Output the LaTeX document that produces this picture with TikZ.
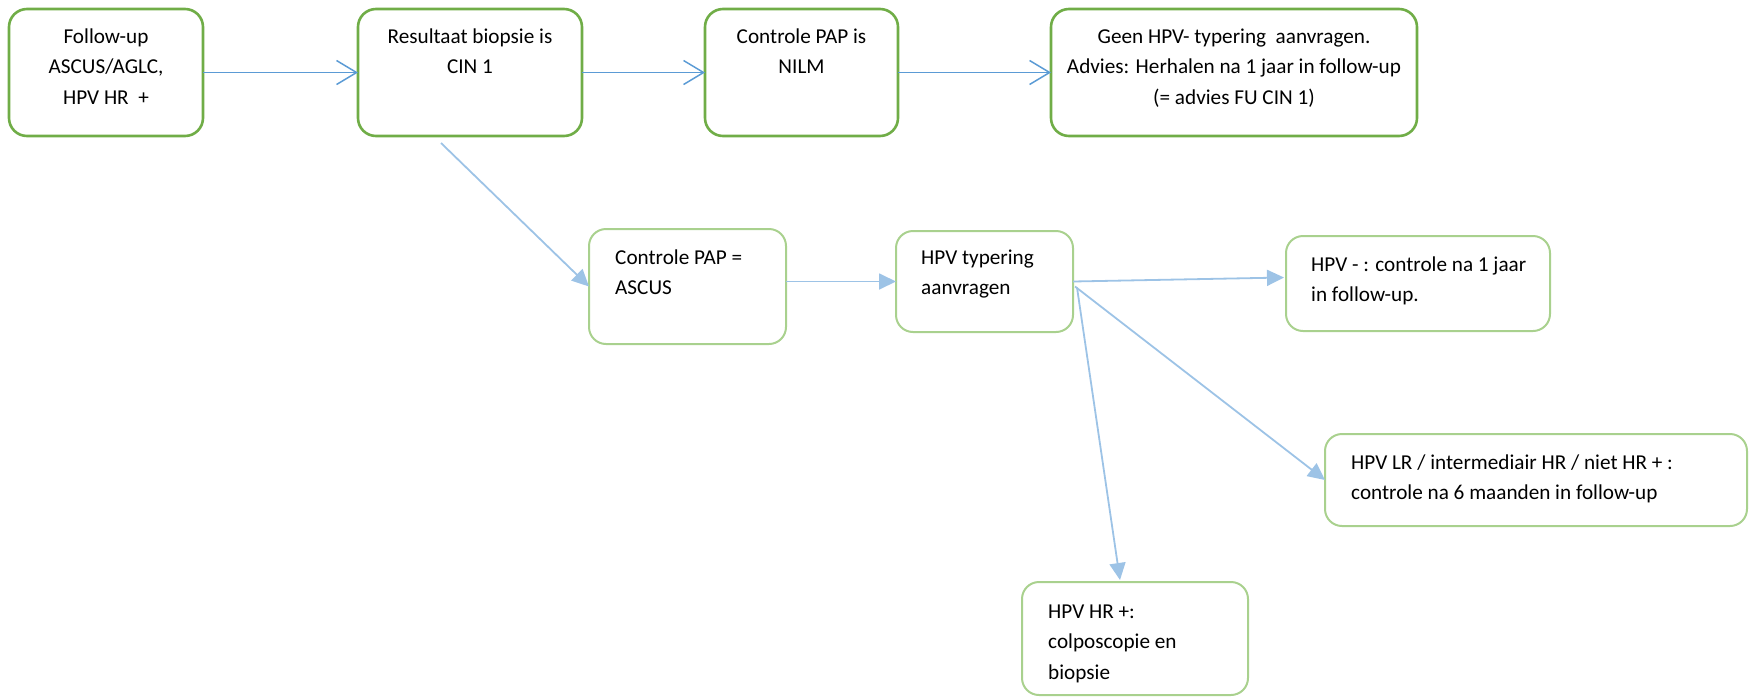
\documentclass[tikz,border=0pt]{standalone}
\usepackage{fontspec}
\setmainfont{Carlito}
\usetikzlibrary{arrows.meta,calc}
\definecolor{gdark}{RGB}{112,173,71}
\definecolor{glight}{RGB}{169,209,142}
\definecolor{bdark}{RGB}{91,155,213}
\definecolor{blight}{RGB}{157,195,230}
\newcommand{\firstline}{\rule{0pt}{20pt}}
\begin{document}
\begin{tikzpicture}[x=1pt,y=-1pt,
 topbox/.style={draw=gdark, line width=2.6pt, rounded corners=18pt, inner sep=0pt, outer sep=0pt},
 lowbox/.style={draw=glight, line width=2pt, rounded corners=17pt, inner sep=0pt, outer sep=0pt},
 txt/.style={inner sep=0pt, font=\fontsize{21.2}{30.5}\selectfont},
 toparrow/.style={draw=bdark, line width=1.5pt, -{Straight Barb[length=20pt,width=24pt]}},
 lowarrow/.style={draw=blight, line width=1.8pt, -{Triangle[length=17pt,width=16pt]}}]
\useasboundingbox (0,0) rectangle (1749,697);
% top row
\node[topbox, minimum width=194pt, minimum height=127pt] (a) at (106,72.5) {};
\node[topbox, minimum width=224pt, minimum height=127pt] (b) at (470,72.5) {};
\node[topbox, minimum width=193pt, minimum height=127pt] (c) at (801.5,72.5) {};
\node[topbox, minimum width=366pt, minimum height=127pt] (d) at (1234,72.5) {};
\node[txt, align=center, anchor=north] (ta) at (106,23) {\firstline Follow-up\\ASCUS/AGLC,\\HPV HR~~+};
\node[txt, align=center, anchor=north] (tb) at (470,23) {\firstline Resultaat biopsie is\\CIN 1};
\node[txt, align=center, anchor=north] (tc) at (801.5,23) {\firstline Controle PAP is\\NILM};
\node[txt, align=center, anchor=north] (td) at (1234,23) {\firstline Geen HPV- typering~~aanvragen.\\Advies: Herhalen na 1 jaar in follow-up\\(= advies FU CIN 1)};
% lower boxes
\node[lowbox, minimum width=197pt, minimum height=115pt] (e) at (687.5,286.5) {};
\node[lowbox, minimum width=177pt, minimum height=101pt] (f) at (984.5,281.5) {};
\node[lowbox, minimum width=264pt, minimum height=95pt] (g) at (1418,283.5) {};
\node[lowbox, minimum width=422pt, minimum height=92pt] (h) at (1536,480) {};
\node[lowbox, minimum width=226pt, minimum height=113pt] (i) at (1135,638.5) {};
\node[txt, align=left, anchor=north west] (te) at (615,244) {\firstline Controle PAP =\\ASCUS};
\node[txt, align=left, anchor=north west] (tf) at (921,244) {\firstline HPV typering\\aanvragen};
\node[txt, align=left, anchor=north west] (tg) at (1311,251) {\firstline HPV - : controle na 1 jaar\\in follow-up.};
\node[txt, align=left, anchor=north west] (th) at (1351,449) {\firstline HPV LR / intermediair HR / niet HR + :\\controle na 6 maanden in follow-up};
\node[txt, align=left, anchor=north west] (ti) at (1048,598) {\firstline HPV HR +:\\colposcopie en\\biopsie};
% connectors
\draw[toparrow] (a.east) -- (b.west);
\draw[toparrow] (b.east) -- (c.west);
\draw[toparrow] (c.east) -- (d.west);
\draw[lowarrow] ($(b.south)+(-29,7)$) -- (e.west);
\draw[lowarrow] (f.west -| e.east) -- (f.west);
\draw[lowarrow] (f.east) -- ($(g.west)+(-2,-6)$);
\draw[lowarrow] ($(f.east)+(2,5)$) -- (h.west);
\draw[lowarrow] ($(f.east)+(4,6)$) -- ($(i.north)+(-15,-2)$);
\end{tikzpicture}
\end{document}
